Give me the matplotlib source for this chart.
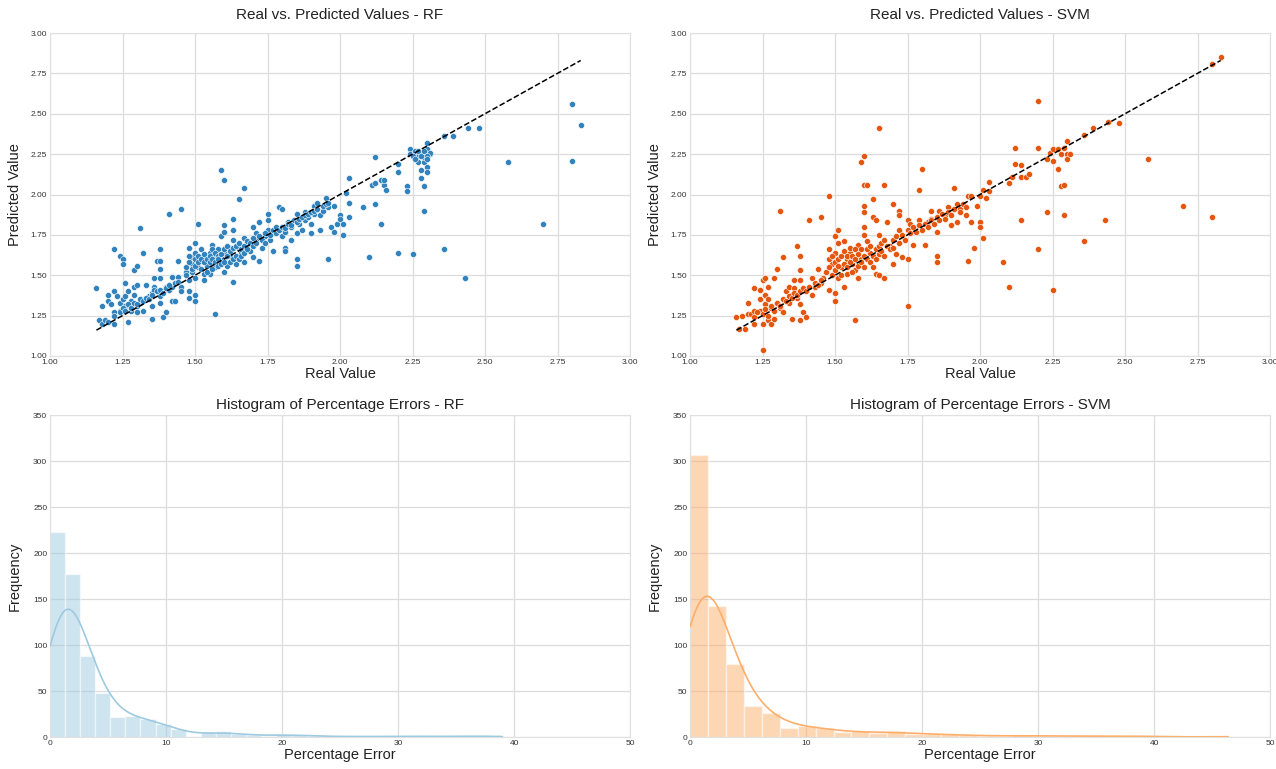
import numpy as np
import matplotlib
matplotlib.use('Agg')
import matplotlib.pyplot as plt
import seaborn as sns

# ---- scatter data ----
rf_real = [1.16, 1.17, 1.18, 1.18, 1.19, 1.20, 1.20, 1.20, 1.21, 1.22, 1.22, 1.22, 1.22, 1.23, 1.24, 1.25,
           1.25, 1.24, 1.24, 1.25, 1.26, 1.26, 1.26, 1.27, 1.27, 1.28, 1.28, 1.29, 1.29, 1.29, 1.30, 1.30,
           1.30, 1.30, 1.31, 1.31, 1.32, 1.32, 1.33, 1.33, 1.34, 1.35, 1.35, 1.35, 1.36, 1.36, 1.36, 1.37,
           1.38, 1.38, 1.38, 1.38, 1.38, 1.38, 1.39, 1.39, 1.40, 1.40, 1.41, 1.41, 1.42, 1.42, 1.42, 1.43,
           1.44, 1.44, 1.45, 1.45, 1.45, 1.47, 1.48, 1.48, 1.48, 1.48, 1.49, 1.49, 1.50, 1.50, 1.50, 1.50,
           1.51, 1.51, 1.52, 1.52, 1.53, 1.53, 1.53, 1.54, 1.55, 1.55, 1.56, 1.56, 1.57, 1.57, 1.57, 1.58,
           1.59, 1.59, 1.59, 1.60, 1.60, 1.60, 1.60, 1.60, 1.61, 1.62, 1.62, 1.63, 1.63, 1.63, 1.63, 1.64,
           1.65, 1.65, 1.66, 1.67, 1.67, 1.67, 1.68, 1.69, 1.70, 1.70, 1.71, 1.71, 1.72, 1.72, 1.73, 1.74,
           1.75, 1.75, 1.75, 1.76, 1.77, 1.77, 1.79, 1.80, 1.80, 1.81, 1.81, 1.81, 1.82, 1.83, 1.83, 1.85,
           1.85, 1.85, 1.85, 1.86, 1.87, 1.88, 1.88, 1.89, 1.90, 1.90, 1.91, 1.91, 1.92, 1.93, 1.93, 1.94,
           1.95, 1.96, 1.96, 1.97, 1.98, 1.98, 1.99, 2.00, 2.00, 2.01, 2.01, 2.02, 2.03, 2.03, 2.03, 2.08,
           2.10, 2.11, 2.12, 2.12, 2.12, 2.14, 2.14, 2.15, 2.15, 2.16, 2.20, 2.20, 2.20, 2.23, 2.23, 2.24,
           2.24, 2.25, 2.26, 2.26, 2.27, 2.27, 2.28, 2.28, 2.28, 2.29, 2.29, 2.29, 2.29, 2.30, 2.30, 2.30,
           2.30, 2.31, 2.31, 2.36, 2.36, 2.39, 2.43, 2.44, 2.48, 2.58, 2.70, 2.80, 2.80, 2.83,
           # dense band along the diagonal
           1.47, 1.47, 1.48, 1.48, 1.49, 1.49, 1.50, 1.50, 1.50, 1.51, 1.51, 1.52, 1.52, 1.53, 1.53, 1.54,
           1.54, 1.55, 1.55, 1.56, 1.56, 1.56, 1.57, 1.57, 1.58, 1.58, 1.58, 1.59, 1.59, 1.60, 1.60, 1.60,
           1.61, 1.61, 1.62, 1.62, 1.63, 1.63, 1.64, 1.64, 1.65, 1.65, 1.66, 1.66, 1.67, 1.67, 1.68, 1.68,
           1.69, 1.70, 1.70, 1.71, 1.72, 1.73, 1.74, 1.74, 1.76, 1.77, 1.78, 1.78, 1.79, 1.80, 1.81, 1.82,
           1.83, 1.84, 1.85, 1.86, 1.87, 1.88, 1.89, 1.90, 1.91, 1.92, 1.94, 1.95, 1.96,
           1.22, 1.24, 1.25, 1.26, 1.27, 1.28, 1.29, 1.30, 1.31, 1.32, 1.33, 1.34, 1.35, 1.37, 1.38, 1.39,
           1.40, 1.41, 1.43, 1.44,
           2.25, 2.26, 2.27, 2.28, 2.29, 2.30, 2.30]
rf_pred = [1.42, 1.22, 1.20, 1.31, 1.22, 1.38, 1.34, 1.21, 1.32, 1.27, 1.20, 1.66, 1.40, 1.37, 1.62, 1.60,
           1.57, 1.33, 1.28, 1.35, 1.37, 1.45, 1.31, 1.21, 1.40, 1.34, 1.28, 1.38, 1.53, 1.43, 1.31, 1.56,
           1.44, 1.27, 1.79, 1.33, 1.64, 1.28, 1.35, 1.44, 1.37, 1.39, 1.23, 1.31, 1.43, 1.48, 1.41, 1.59,
           1.37, 1.33, 1.66, 1.54, 1.48, 1.59, 1.40, 1.24, 1.43, 1.27, 1.41, 1.88, 1.43, 1.49, 1.34, 1.34,
           1.59, 1.49, 1.43, 1.91, 1.40, 1.52, 1.67, 1.40, 1.36, 1.47, 1.61, 1.57, 1.38, 1.34, 1.70, 1.64,
           1.82, 1.55, 1.59, 1.66, 1.47, 1.51, 1.62, 1.56, 1.64, 1.51, 1.69, 1.57, 1.62, 1.26, 1.55, 1.66,
           1.59, 2.15, 1.74, 2.09, 1.81, 1.52, 1.77, 1.64, 1.56, 1.67, 1.62, 1.46, 1.78, 1.85, 1.72, 1.57,
           1.97, 1.66, 1.64, 1.58, 2.04, 1.73, 1.69, 1.65, 1.80, 1.61, 1.72, 1.76, 1.59, 1.83, 1.67, 1.74,
           1.88, 1.84, 1.78, 1.72, 1.65, 1.76, 1.92, 1.91, 1.74, 1.67, 1.77, 1.65, 1.83, 1.72, 1.80, 1.60,
           1.56, 1.88, 1.76, 1.82, 1.78, 1.89, 1.84, 1.86, 1.76, 1.82, 1.93, 1.88, 1.95, 1.78, 1.87, 1.90,
           1.98, 1.92, 1.60, 1.80, 1.77, 1.93, 1.82, 1.87, 1.85, 1.75, 1.82, 2.01, 2.10, 1.95, 1.86, 1.92,
           1.61, 2.06, 2.07, 2.23, 1.94, 1.82, 2.09, 2.06, 2.09, 2.03, 2.19, 2.14, 1.64, 2.05, 2.02, 2.28,
           2.25, 1.63, 2.26, 2.27, 2.20, 2.24, 2.10, 2.15, 2.26, 1.90, 2.05, 2.20, 2.23, 2.32, 2.17, 2.14,
           2.28, 2.25, 2.26, 2.36, 1.66, 2.36, 1.48, 2.41, 2.41, 2.20, 1.82, 2.56, 2.21, 2.43,
           1.50, 1.55, 1.58, 1.62, 1.52, 1.54, 1.56, 1.60, 1.48, 1.58, 1.62, 1.54, 1.60, 1.58, 1.63, 1.60,
           1.52, 1.58, 1.62, 1.54, 1.60, 1.66, 1.58, 1.64, 1.56, 1.62, 1.60, 1.63, 1.57, 1.60, 1.58, 1.66,
           1.62, 1.68, 1.58, 1.65, 1.60, 1.67, 1.62, 1.68, 1.60, 1.70, 1.66, 1.62, 1.68, 1.64, 1.66, 1.71,
           1.70, 1.68, 1.73, 1.70, 1.74, 1.72, 1.70, 1.76, 1.75, 1.78, 1.76, 1.80, 1.78, 1.80, 1.79, 1.82,
           1.81, 1.84, 1.83, 1.85, 1.86, 1.87, 1.88, 1.89, 1.90, 1.91, 1.93, 1.94, 1.95,
           1.25, 1.27, 1.30, 1.28, 1.32, 1.30, 1.33, 1.32, 1.35, 1.34, 1.36, 1.35, 1.38, 1.40, 1.41, 1.39,
           1.42, 1.44, 1.45, 1.46,
           2.24, 2.22, 2.27, 2.24, 2.27, 2.24, 2.22]

svm_real = [1.16, 1.17, 1.18, 1.19, 1.20, 1.20, 1.21, 1.22, 1.22, 1.22, 1.24, 1.24, 1.24, 1.25, 1.25, 1.25,
            1.26, 1.26, 1.26, 1.27, 1.27, 1.27, 1.28, 1.28, 1.29, 1.29, 1.30, 1.30, 1.31, 1.31, 1.32, 1.32,
            1.33, 1.34, 1.34, 1.35, 1.35, 1.36, 1.36, 1.37, 1.37, 1.38, 1.38, 1.38, 1.38, 1.38, 1.39, 1.40,
            1.40, 1.41, 1.42, 1.42, 1.43, 1.44, 1.45, 1.45, 1.46, 1.48, 1.48, 1.48, 1.49, 1.50, 1.50, 1.50,
            1.50, 1.51, 1.51, 1.51, 1.52, 1.53, 1.53, 1.54, 1.54, 1.55, 1.56, 1.57, 1.57, 1.58, 1.58, 1.59,
            1.59, 1.60, 1.60, 1.60, 1.60, 1.60, 1.60, 1.61, 1.61, 1.62, 1.63, 1.63, 1.64, 1.64, 1.65, 1.65,
            1.65, 1.67, 1.67, 1.68, 1.69, 1.70, 1.70, 1.71, 1.72, 1.72, 1.72, 1.73, 1.75, 1.75, 1.75, 1.76,
            1.77, 1.79, 1.79, 1.80, 1.81, 1.82, 1.83, 1.83, 1.85, 1.85, 1.85, 1.86, 1.88, 1.89, 1.90, 1.91,
            1.92, 1.92, 1.93, 1.95, 1.96, 1.96, 1.97, 1.97, 1.98, 1.99, 2.00, 2.00, 2.00, 2.01, 2.01, 2.02,
            2.03, 2.03, 2.08, 2.10, 2.10, 2.11, 2.12, 2.12, 2.14, 2.14, 2.14, 2.16, 2.17, 2.20, 2.20, 2.20,
            2.23, 2.23, 2.24, 2.25, 2.25, 2.25, 2.27, 2.27, 2.28, 2.28, 2.29, 2.29, 2.29, 2.30, 2.30, 2.30,
            2.31, 2.36, 2.36, 2.39, 2.43, 2.44, 2.48, 2.58, 2.70, 2.80, 2.80, 2.83,
            # dense band along the diagonal
            1.47, 1.48, 1.48, 1.49, 1.49, 1.50, 1.50, 1.51, 1.51, 1.52, 1.52, 1.53, 1.53, 1.54, 1.54, 1.55,
            1.55, 1.56, 1.56, 1.57, 1.57, 1.58, 1.58, 1.59, 1.59, 1.60, 1.60, 1.61, 1.61, 1.62, 1.62, 1.63,
            1.63, 1.64, 1.64, 1.65, 1.65, 1.66, 1.66, 1.67, 1.67, 1.68, 1.69, 1.70, 1.70, 1.71, 1.72, 1.73,
            1.74, 1.75, 1.76, 1.77, 1.78, 1.79, 1.80, 1.81, 1.82, 1.83, 1.84, 1.85, 1.86, 1.87, 1.88, 1.89,
            1.90, 1.91, 1.93, 1.94, 1.95,
            1.22, 1.23, 1.25, 1.26, 1.27, 1.28, 1.29, 1.30, 1.31, 1.32, 1.33, 1.34, 1.35, 1.36, 1.37, 1.38,
            1.39, 1.40, 1.41, 1.43, 1.44, 1.45]
svm_pred = [1.24, 1.17, 1.25, 1.17, 1.33, 1.26, 1.26, 1.42, 1.20, 1.28, 1.41, 1.35, 1.28, 1.04, 1.20, 1.47,
            1.48, 1.38, 1.32, 1.22, 1.43, 1.35, 1.20, 1.30, 1.48, 1.23, 1.54, 1.33, 1.90, 1.30, 1.61, 1.27,
            1.40, 1.43, 1.33, 1.23, 1.38, 1.42, 1.47, 1.68, 1.36, 1.53, 1.62, 1.32, 1.22, 1.47, 1.27, 1.41,
            1.24, 1.84, 1.38, 1.48, 1.43, 1.54, 1.45, 1.86, 1.48, 1.99, 1.66, 1.41, 1.57, 1.74, 1.34, 1.39,
            1.64, 1.78, 1.70, 1.48, 1.55, 1.71, 1.43, 1.60, 1.51, 1.64, 1.57, 1.22, 1.53, 1.48, 1.69, 2.20,
            1.60, 2.24, 2.06, 1.93, 1.89, 1.80, 1.75, 2.06, 1.71, 1.64, 1.97, 1.86, 1.84, 1.51, 2.41, 1.75,
            1.50, 2.06, 1.48, 1.83, 1.68, 1.94, 1.57, 1.63, 1.90, 1.87, 1.78, 1.61, 1.31, 1.60, 1.84, 1.82,
            1.69, 2.03, 1.84, 2.16, 1.69, 1.83, 1.90, 1.85, 1.77, 1.62, 1.58, 1.90, 1.87, 1.92, 1.81, 2.04,
            1.83, 1.94, 1.91, 1.87, 1.99, 1.59, 1.99, 1.83, 1.67, 1.93, 1.83, 1.80, 1.99, 1.73, 2.03, 1.98,
            2.08, 2.02, 1.58, 1.43, 2.07, 2.11, 2.29, 2.19, 2.18, 1.84, 2.11, 2.11, 2.13, 2.58, 2.29, 1.66,
            2.22, 1.89, 2.26, 1.41, 2.21, 2.28, 2.16, 2.28, 2.25, 2.05, 2.06, 1.87, 2.29, 2.25, 2.33, 2.22,
            2.25, 2.37, 1.71, 2.41, 1.84, 2.45, 2.44, 2.22, 1.93, 2.81, 1.86, 2.85,
            1.52, 1.60, 1.55, 1.62, 1.50, 1.58, 1.53, 1.60, 1.56, 1.62, 1.50, 1.57, 1.65, 1.62, 1.55, 1.58,
            1.67, 1.62, 1.52, 1.60, 1.66, 1.56, 1.63, 1.58, 1.66, 1.62, 1.55, 1.60, 1.66, 1.58, 1.68, 1.62,
            1.55, 1.66, 1.60, 1.63, 1.68, 1.65, 1.70, 1.62, 1.72, 1.68, 1.66, 1.72, 1.67, 1.74, 1.70, 1.75,
            1.72, 1.78, 1.76, 1.80, 1.77, 1.81, 1.78, 1.82, 1.80, 1.84, 1.82, 1.86, 1.84, 1.88, 1.85, 1.89,
            1.87, 1.91, 1.89, 1.94, 1.92,
            1.24, 1.27, 1.26, 1.29, 1.25, 1.31, 1.28, 1.33, 1.31, 1.35, 1.34, 1.37, 1.36, 1.39, 1.38, 1.40,
            1.42, 1.40, 1.43, 1.45, 1.44, 1.47]

# ---- histogram counts (30 bins each) ----
rf_err_max = 39.0
rf_counts = [223, 177, 88, 48, 22, 23, 20, 14, 9, 0, 5, 6, 3, 2, 1, 3, 2, 1, 1, 0, 1, 0, 1, 1, 1, 0, 1, 1, 1, 1]
svm_err_max = 46.4
svm_counts = [307, 142, 79, 34, 26, 10, 12, 10, 5, 6, 4, 7, 3, 3, 3, 2, 1, 1, 2, 1, 1, 1, 1, 1, 1, 1, 0, 0, 0, 1]

sns.set_style('whitegrid')
plt.rcParams['font.family'] = ['Liberation Sans', 'DejaVu Sans']

W, H = 1276, 769
fig = plt.figure(figsize=(W / 100, H / 100), dpi=100)


def box(l, r, t, b):
    return [l / W, 1 - b / H, (r - l) / W, (b - t) / H]


ax1 = fig.add_axes(box(50, 630, 33, 356))
ax2 = fig.add_axes(box(690, 1270, 33, 356))
ax3 = fig.add_axes(box(50, 630, 415, 737))
ax4 = fig.add_axes(box(690, 1270, 415, 737))


def scatter(ax, real, pred, color, name):
    ax.scatter(real, pred, s=19, color=color, edgecolor='white', linewidth=0.4, zorder=3)
    lo, hi = min(real), max(real)
    ax.plot([lo, hi], [lo, hi], 'k--', lw=1.1, zorder=4)
    ax.set_xlim(1, 3)
    ax.set_ylim(1, 3)
    ax.set_xticks(np.arange(1, 3.01, 0.25))
    ax.set_yticks(np.arange(1, 3.01, 0.25))
    ax.xaxis.set_major_formatter('{x:.2f}')
    ax.yaxis.set_major_formatter('{x:.2f}')
    ax.set_title('Real vs. Predicted Values - ' + name, fontsize=11, pad=10, color='#222222')
    ax.set_xlabel('Real Value', fontsize=10.5, labelpad=1, color='#222222')
    ax.set_ylabel('Predicted Value', fontsize=10.5, labelpad=6, color='#222222')


def hist(ax, counts, emax, color, name):
    counts = np.array(counts, dtype=float)
    edges = np.linspace(0, emax, len(counts) + 1)
    centers = (edges[:-1] + edges[1:]) / 2
    bw = edges[1] - edges[0]
    ax.bar(centers, counts, width=bw, color=color, alpha=0.5, edgecolor='white', linewidth=1, zorder=2)
    # gaussian kde from the binned values, scott's rule (binning narrows the spread a bit)
    n = counts.sum()
    mean = (centers * counts).sum() / n
    std = np.sqrt(((centers - mean) ** 2 * counts).sum() / n)
    h = 1.15 * std * n ** (-1 / 5)
    xs = np.linspace(0, emax, 400)
    dens = (counts[None, :] * np.exp(-0.5 * ((xs[:, None] - centers[None, :]) / h) ** 2)).sum(1)
    dens = dens / (n * h * np.sqrt(2 * np.pi))
    ax.plot(xs, dens * n * bw, color=color, lw=1.2, zorder=3)
    ax.set_xlim(0, 50)
    ax.set_ylim(0, 350)
    ax.set_xticks(np.arange(0, 51, 10))
    ax.set_yticks(np.arange(0, 351, 50))
    ax.set_title('Histogram of Percentage Errors - ' + name, fontsize=11, pad=4, color='#222222')
    ax.set_xlabel('Percentage Error', fontsize=10.5, labelpad=1, color='#222222')
    ax.set_ylabel('Frequency', fontsize=10.5, labelpad=8, color='#222222')


scatter(ax1, rf_real, rf_pred, '#3182bd', 'RF')
scatter(ax2, svm_real, svm_pred, '#e6550d', 'SVM')
hist(ax3, rf_counts, rf_err_max, '#9ecae1', 'RF')
hist(ax4, svm_counts, svm_err_max, '#fdae6b', 'SVM')

for ax in (ax1, ax2, ax3, ax4):
    ax.tick_params(labelsize=6, colors='#333333', pad=2, length=0)
    ax.grid(color='#dcdcdc', lw=0.9)
    for s in ax.spines.values():
        s.set_color('#e0e0e0')

fig.savefig('out.png', dpi=100)
